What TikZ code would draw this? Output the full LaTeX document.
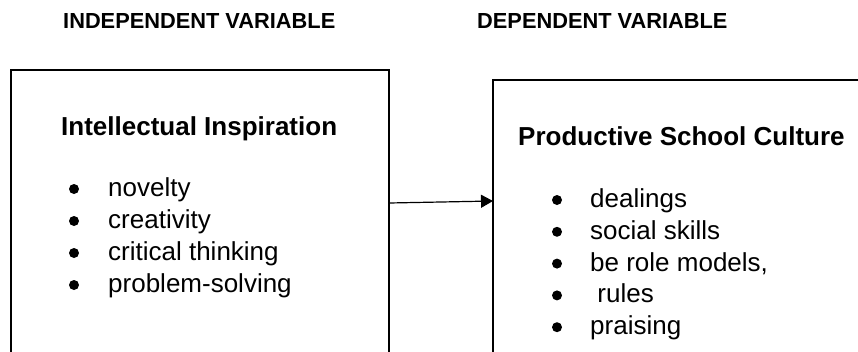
\documentclass[tikz,border=0pt]{standalone}
\usepackage{fontspec}
\setmainfont{Liberation Sans}
\usetikzlibrary{arrows.meta}
\tikzset{
  box/.style={draw, line width=1.2pt, inner sep=0pt, outer sep=0pt, anchor=north west},
  head/.style={font=\bfseries\fontsize{21.8}{26}\selectfont, inner sep=0pt, anchor=base west},
  title/.style={font=\bfseries\fontsize{26}{32}\selectfont, inner sep=0pt, anchor=base west},
  item/.style={font=\fontsize{26}{32}\selectfont, inner sep=0pt, anchor=base west},
}
\begin{document}
\begin{tikzpicture}[x=1pt,y=-1pt]
\useasboundingbox (0,0) rectangle (858,351);
\clip (0,0) rectangle (858,351);

% headings
\node[head] (indhead) at (63,28) {INDEPENDENT VARIABLE};
\node[head] (dephead) at (477,28) {DEPENDENT VARIABLE};

% boxes, cut off at the bottom and right
\node[box, minimum width=378pt, minimum height=330pt] (ind) at (11,70) {};
\node[box, minimum width=420pt, minimum height=330pt] (dep) at (493,80) {};

% box titles
\node[title] (indtitle) at (61,135) {Intellectual Inspiration};
\node[title] (deptitle) at (518,145) {Productive School Culture};

% bullet lists
\foreach \t [count=\i] in {novelty, creativity, critical thinking, problem-solving} {
  \fill (74,189+32*\i-32) circle (5pt);
  \node[item] (ind\i) at (108,196.5+32*\i-32) {\t};
}
\foreach \t [count=\i] in {dealings, social skills, {be role models,}, {\ rules}, praising} {
  \fill (557,200+31.8*\i-31.8) circle (5pt);
  \node[item] (dep\i) at (590,207.5+31.8*\i-31.8) {\t};
}

% connector
\draw[-{Triangle[length=12pt,width=13pt]}, line width=1.2pt]
  ([yshift=-133pt]ind.north east) -- ([yshift=-121pt]dep.north west);
\end{tikzpicture}
\end{document}
